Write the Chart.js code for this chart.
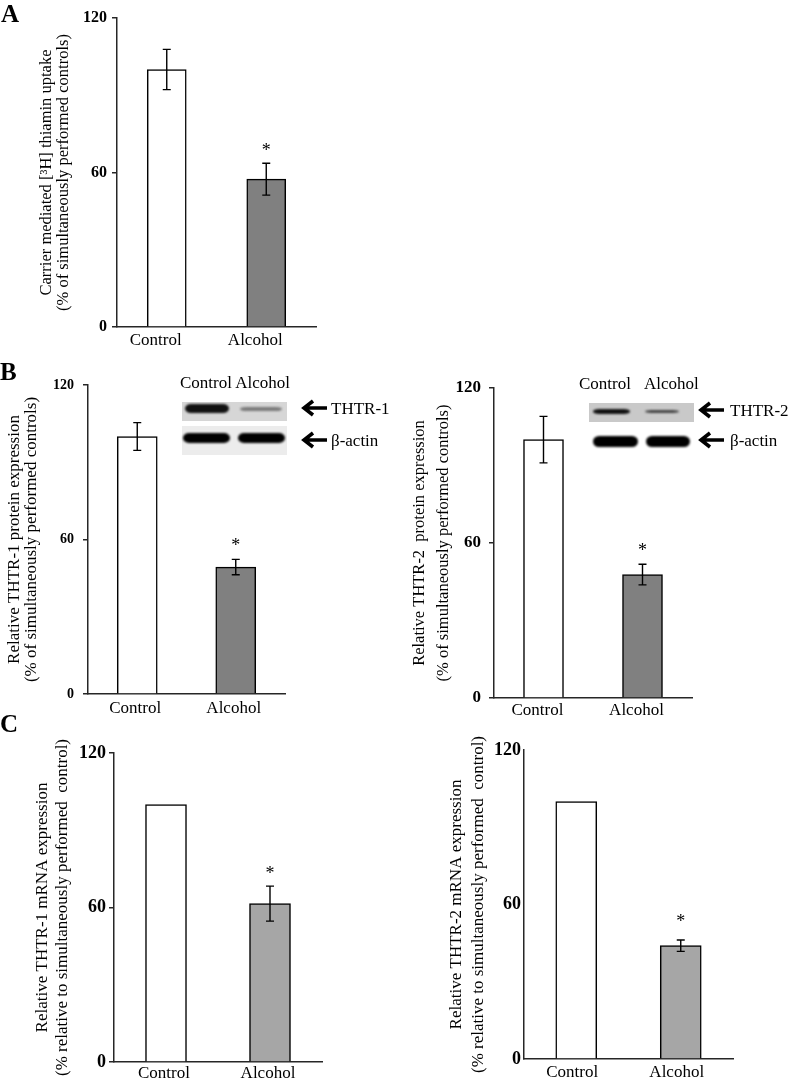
<!DOCTYPE html>
<html>
<head>
<meta charset="utf-8">
<script src="https://cdn.jsdelivr.net/npm/chart.js@4/dist/chart.umd.min.js"></script>
<style>
  html, body { margin: 0; padding: 0; background: #fff; }
  #page { position: relative; width: 798px; height: 1084px; overflow: hidden; font-family: 'Liberation Serif', 'Times New Roman', serif; }
  #page canvas { position: absolute; left: 0; top: 0; }
  .panel-tag { position: absolute; font-weight: bold; font-size: 25px; line-height: 25px; }
  .blot-text { position: absolute; font-size: 17px; line-height: 17px; white-space: nowrap; }
  .blot-box { position: absolute; }
  .band { position: absolute; border-radius: 6px / 50%; filter: blur(0.9px); }
  svg.arrow { position: absolute; overflow: visible; }
</style>
</head>
<body>
<div id="page">
  <canvas id="chartA" width="798" height="1084"></canvas>
  <canvas id="chartB1" width="798" height="1084"></canvas>
  <canvas id="chartB2" width="798" height="1084"></canvas>
  <canvas id="chartC1" width="798" height="1084"></canvas>
  <canvas id="chartC2" width="798" height="1084"></canvas>

  <div class="panel-tag" style="left:1px; top:1px;">A</div>
  <div class="panel-tag" style="left:0px; top:359px;">B</div>
  <div class="panel-tag" style="left:0px; top:711px;">C</div>

  <!-- western blot inset, THTR-1 -->
  <div class="blot-text" style="left:180px; top:374px;">Control Alcohol</div>
  <div class="blot-box" style="left:182px; top:402px; width:105px; height:19px; background:#d6d6d6;"></div>
  <div class="band" style="left:185px; top:404px; width:44px; height:9px; background:#111;"></div>
  <div class="band" style="left:240px; top:407px; width:42px; height:4px; background:#7a7a7a;"></div>
  <div class="blot-box" style="left:182px; top:426px; width:105px; height:29px; background:#ececec;"></div>
  <div class="band" style="left:183px; top:433px; width:47px; height:10px; background:#000;"></div>
  <div class="band" style="left:238px; top:433px; width:47px; height:10px; background:#000;"></div>
  <svg class="arrow" style="left:302px; top:402px;" width="26" height="12"><path d="M25 6 H3 M11 -1 L2 6 L11 13" stroke="#000" stroke-width="3.6" fill="none"/></svg>
  <svg class="arrow" style="left:302px; top:434px;" width="26" height="12"><path d="M25 6 H3 M11 -1 L2 6 L11 13" stroke="#000" stroke-width="3.6" fill="none"/></svg>
  <div class="blot-text" style="left:331px; top:400px;">THTR-1</div>
  <div class="blot-text" style="left:331px; top:432px;">β-actin</div>

  <!-- western blot inset, THTR-2 -->
  <div class="blot-text" style="left:579px; top:375px;">Control</div>
  <div class="blot-text" style="left:644px; top:375px;">Alcohol</div>
  <div class="blot-box" style="left:589px; top:403px; width:105px; height:19px; background:#c9c9c9;"></div>
  <div class="band" style="left:593px; top:409px; width:37px; height:5px; background:#111;"></div>
  <div class="band" style="left:645px; top:410px; width:34px; height:3px; background:#444;"></div>
  <div class="band" style="left:593px; top:436px; width:45px; height:11px; background:#000;"></div>
  <div class="band" style="left:646px; top:436px; width:44px; height:11px; background:#000;"></div>
  <svg class="arrow" style="left:699px; top:404px;" width="26" height="12"><path d="M25 6 H3 M11 -1 L2 6 L11 13" stroke="#000" stroke-width="3.6" fill="none"/></svg>
  <svg class="arrow" style="left:699px; top:434px;" width="26" height="12"><path d="M25 6 H3 M11 -1 L2 6 L11 13" stroke="#000" stroke-width="3.6" fill="none"/></svg>
  <div class="blot-text" style="left:730px; top:402px;">THTR-2</div>
  <div class="blot-text" style="left:730px; top:432px;">β-actin</div>
</div>

<script>
// data (% of control)
const categories = ['Control', 'Alcohol'];
const yTicks = [0, 60, 120];
const significant = [false, true];

const uptakeValues = [100, 57.4];
const uptakeErrors = [7.8, 6.2];

const thtr1ProteinValues = [100, 49.3];
const thtr1ProteinErrors = [5.4, 3.0];

const thtr2ProteinValues = [100, 47.8];
const thtr2ProteinErrors = [9.0, 4.0];

const thtr1MrnaValues = [100, 61.5];
const thtr1MrnaErrors = [null, 6.8];

const thtr2MrnaValues = [100, 44.0];
const thtr2MrnaErrors = [null, 2.2];

const serif = "'Liberation Serif', 'Times New Roman', serif";
const axisColor = '#262626';

// error bars + asterisks, drawn from the y scale
const errorBarPlugin = {
    id: 'errorBars',
    afterDatasetsDraw(chart, args, opts) {
        const ctx = chart.ctx;
        const y = chart.scales.y;
        const ds = chart.data.datasets[0];
        const meta = chart.getDatasetMeta(0);
        ctx.save();
        ctx.strokeStyle = '#000';
        ctx.lineWidth = 1.4;
        meta.data.forEach(function(bar, i) {
            var v = ds.data[i];
            var e = ds.errors[i];
            var topVal = v;
            if (e) {
                var yt = y.getPixelForValue(v + e);
                var yb = y.getPixelForValue(v - e);
                ctx.beginPath();
                ctx.moveTo(bar.x, yt); ctx.lineTo(bar.x, yb);
                ctx.moveTo(bar.x - 4, yt); ctx.lineTo(bar.x + 4, yt);
                ctx.moveTo(bar.x - 4, yb); ctx.lineTo(bar.x + 4, yb);
                ctx.stroke();
                topVal = v + e;
            }
            if (significant[i]) {
                ctx.fillStyle = '#000';
                ctx.font = '18px ' + serif;
                ctx.textAlign = 'center';
                ctx.textBaseline = 'alphabetic';
                ctx.fillText('*', bar.x, y.getPixelForValue(topVal) - opts.starGap + 8.5);
            }
        });
        ctx.restore();
    }
};

function makeChart(id, p) {
    var yWidth = p.axisX - (p.line1X - p.titleSize * p.titleLine / 2);
    var xHeight = 40;
    return new Chart(document.getElementById(id), {
        type: 'bar',
        data: {
            labels: categories,
            datasets: [{
                data: p.values,
                errors: p.errors,
                backgroundColor: ['#ffffff', p.fill],
                borderColor: '#000',
                borderWidth: 1.5,
                borderSkipped: 'start',
                barThickness: p.bar
            }]
        },
        options: {
            responsive: false,
            animation: false,
            events: [],
            layout: {
                padding: {
                    left: p.axisX - yWidth,
                    top: p.top,
                    right: 798 - p.right,
                    bottom: 1084 - p.bottom - xHeight
                }
            },
            plugins: {
                legend: { display: false },
                tooltip: { enabled: false },
                errorBars: { starGap: p.starGap }
            },
            scales: {
                x: {
                    offset: true,
                    grid: { display: false, drawTicks: false },
                    border: { display: true, color: axisColor, width: 1.5 },
                    ticks: {
                        color: '#000',
                        font: { family: serif, size: 17 },
                        padding: p.xPad,
                        labelOffset: p.labelOffset
                    },
                    afterFit: function(s) { s.height = xHeight; }
                },
                y: {
                    min: 0,
                    max: 120,
                    afterBuildTicks: function(s) { s.ticks = yTicks.map(function(v) { return { value: v }; }); },
                    grid: {
                        drawOnChartArea: false,
                        drawTicks: p.tickLen > 0,
                        tickLength: p.tickLen,
                        color: axisColor,
                        lineWidth: 1.5
                    },
                    border: { display: true, color: axisColor, width: 1.5 },
                    ticks: {
                        color: '#000',
                        padding: p.yPad,
                        font: { family: serif, size: p.tickSize, weight: 'bold' }
                    },
                    title: {
                        display: true,
                        text: p.title,
                        color: '#000',
                        padding: { top: 0, bottom: 0 },
                        font: { family: serif, size: p.titleSize, lineHeight: p.titleLine }
                    },
                    afterFit: function(s) { s.width = yWidth; }
                }
            }
        },
        plugins: [errorBarPlugin]
    });
}

makeChart('chartA', {
    values: uptakeValues, errors: uptakeErrors, fill: '#808080',
    axisX: 117, top: 18, bottom: 327, right: 316, bar: 39,
    title: ['Carrier mediated [³H] thiamin uptake', '(% of simultaneously performed controls)'],
    line1X: 47, titleSize: 16.5, titleLine: 1.0,
    tickSize: 16, tickLen: 5, yPad: 5, xPad: 3, labelOffset: -11, starGap: 16
});

makeChart('chartB1', {
    values: thtr1ProteinValues, errors: thtr1ProteinErrors, fill: '#808080',
    axisX: 88, top: 385, bottom: 694, right: 285, bar: 40,
    title: ['Relative THTR-1 protein expression', '(% of simultaneously performed controls)'],
    line1X: 15, titleSize: 17, titleLine: 1.0,
    tickSize: 14, tickLen: 5, yPad: 9, xPad: 4, labelOffset: -2, starGap: 17
});

makeChart('chartB2', {
    values: thtr2ProteinValues, errors: thtr2ProteinErrors, fill: '#808080',
    axisX: 494, top: 388, bottom: 698, right: 692, bar: 40,
    title: ['Relative THTR-2  protein expression', '(% of simultaneously performed controls)'],
    line1X: 420, titleSize: 16.5, titleLine: 1.45,
    tickSize: 17, tickLen: 5, yPad: 8, xPad: 2, labelOffset: -6, starGap: 17
});

makeChart('chartC1', {
    values: thtr1MrnaValues, errors: thtr1MrnaErrors, fill: '#a6a6a6',
    axisX: 114, top: 753, bottom: 1062, right: 322, bar: 41,
    title: ['Relative THTR-1 mRNA expression', '(% relative to simultaneously performed  control)'],
    line1X: 43, titleSize: 17, titleLine: 1.12,
    tickSize: 18, tickLen: 5, yPad: 3, xPad: 1, labelOffset: -2, starGap: 16
});

makeChart('chartC2', {
    values: thtr2MrnaValues, errors: thtr2MrnaErrors, fill: '#a6a6a6',
    axisX: 524, top: 750, bottom: 1059, right: 733, bar: 41,
    title: ['Relative THTR-2 mRNA expression', '(% relative to simultaneously performed  control)'],
    line1X: 457, titleSize: 17, titleLine: 1.24,
    tickSize: 18, tickLen: 0, yPad: 3, xPad: 3, labelOffset: -4, starGap: 22
});
</script>
</body>
</html>
